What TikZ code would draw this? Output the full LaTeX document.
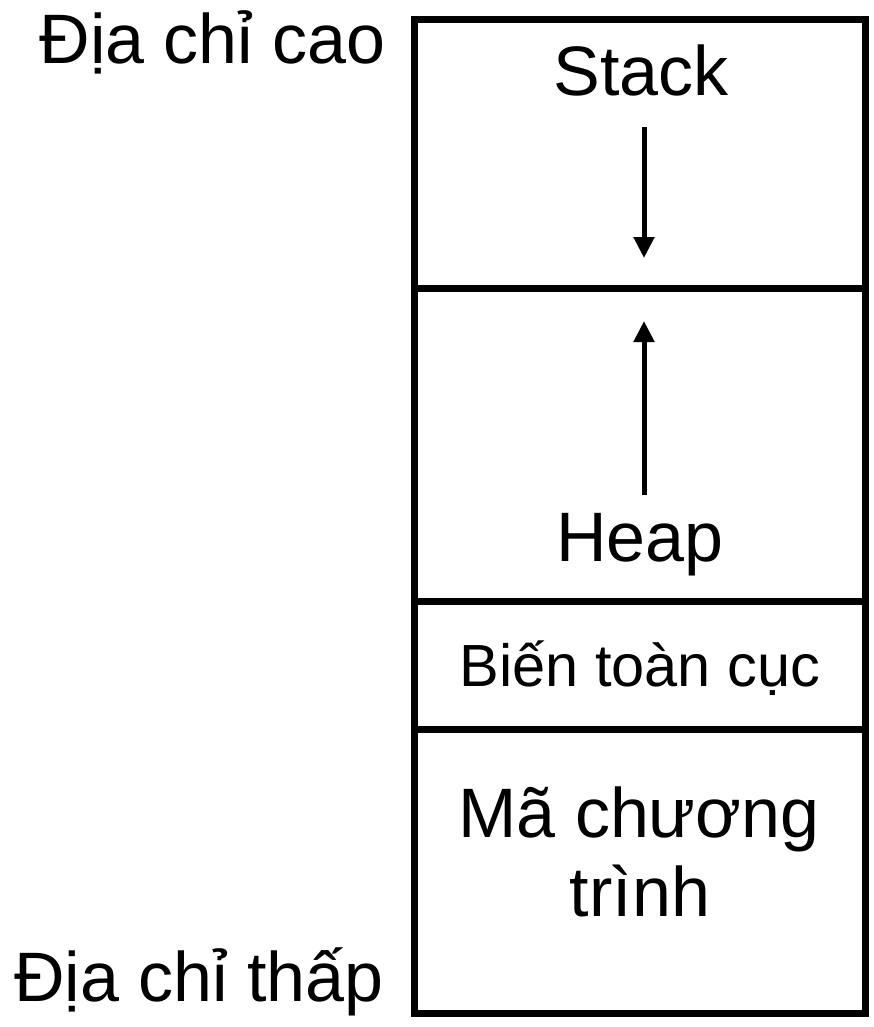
\documentclass[tikz,border=0pt]{standalone}
\usepackage{fontspec}
\setmainfont{Liberation Sans}
\usetikzlibrary{arrows.meta}
\begin{document}
\begin{tikzpicture}[x=1pt,y=-1pt,
  big/.style={font=\fontsize{70}{84}\selectfont, inner sep=0pt},
  mid/.style={font=\fontsize{59.5}{71}\selectfont, inner sep=0pt},
  wall/.style={line width=7pt},
  growarrow/.style={line width=5pt, -{Triangle[width=20pt,length=21pt]}}]
\useasboundingbox (0,0) rectangle (874,1027);
% memory box
\draw[wall] (414,20) rectangle (865,1013);
\coordinate (d1l) at (414,288); \coordinate (d1r) at (865,288);
\coordinate (d2l) at (414,601.5); \coordinate (d2r) at (865,601.5);
\coordinate (d3l) at (414,729.5); \coordinate (d3r) at (865,729.5);
\draw[wall] (d1l) -- (d1r);
\draw[wall] (d2l) -- (d2r);
\draw[wall] (d3l) -- (d3r);
% labels
\node[big, anchor=base east] (hi) at (386,64) {Địa chỉ cao};
\node[big, anchor=base east] (lo) at (384,1001) {Địa chỉ thấp};
\node[big, anchor=base] (stack) at (641,96) {Stack};
\node[big, anchor=base] (heap) at (640,561) {Heap};
\node[mid, anchor=base] (glob) at (640,686) {Biến toàn cục};
\node[big, anchor=base] (code) at (639,837) {Mã chương};
\node[big, anchor=base] (code2) at (640,916) {trình};
% growth arrows
\coordinate (s0) at (644,127); \coordinate (s1) at (644,258);
\coordinate (h0) at (644,495); \coordinate (h1) at (644,321);
\draw[growarrow] (s0) -- (s1);
\draw[growarrow] (h0) -- (h1);
\end{tikzpicture}
\end{document}
